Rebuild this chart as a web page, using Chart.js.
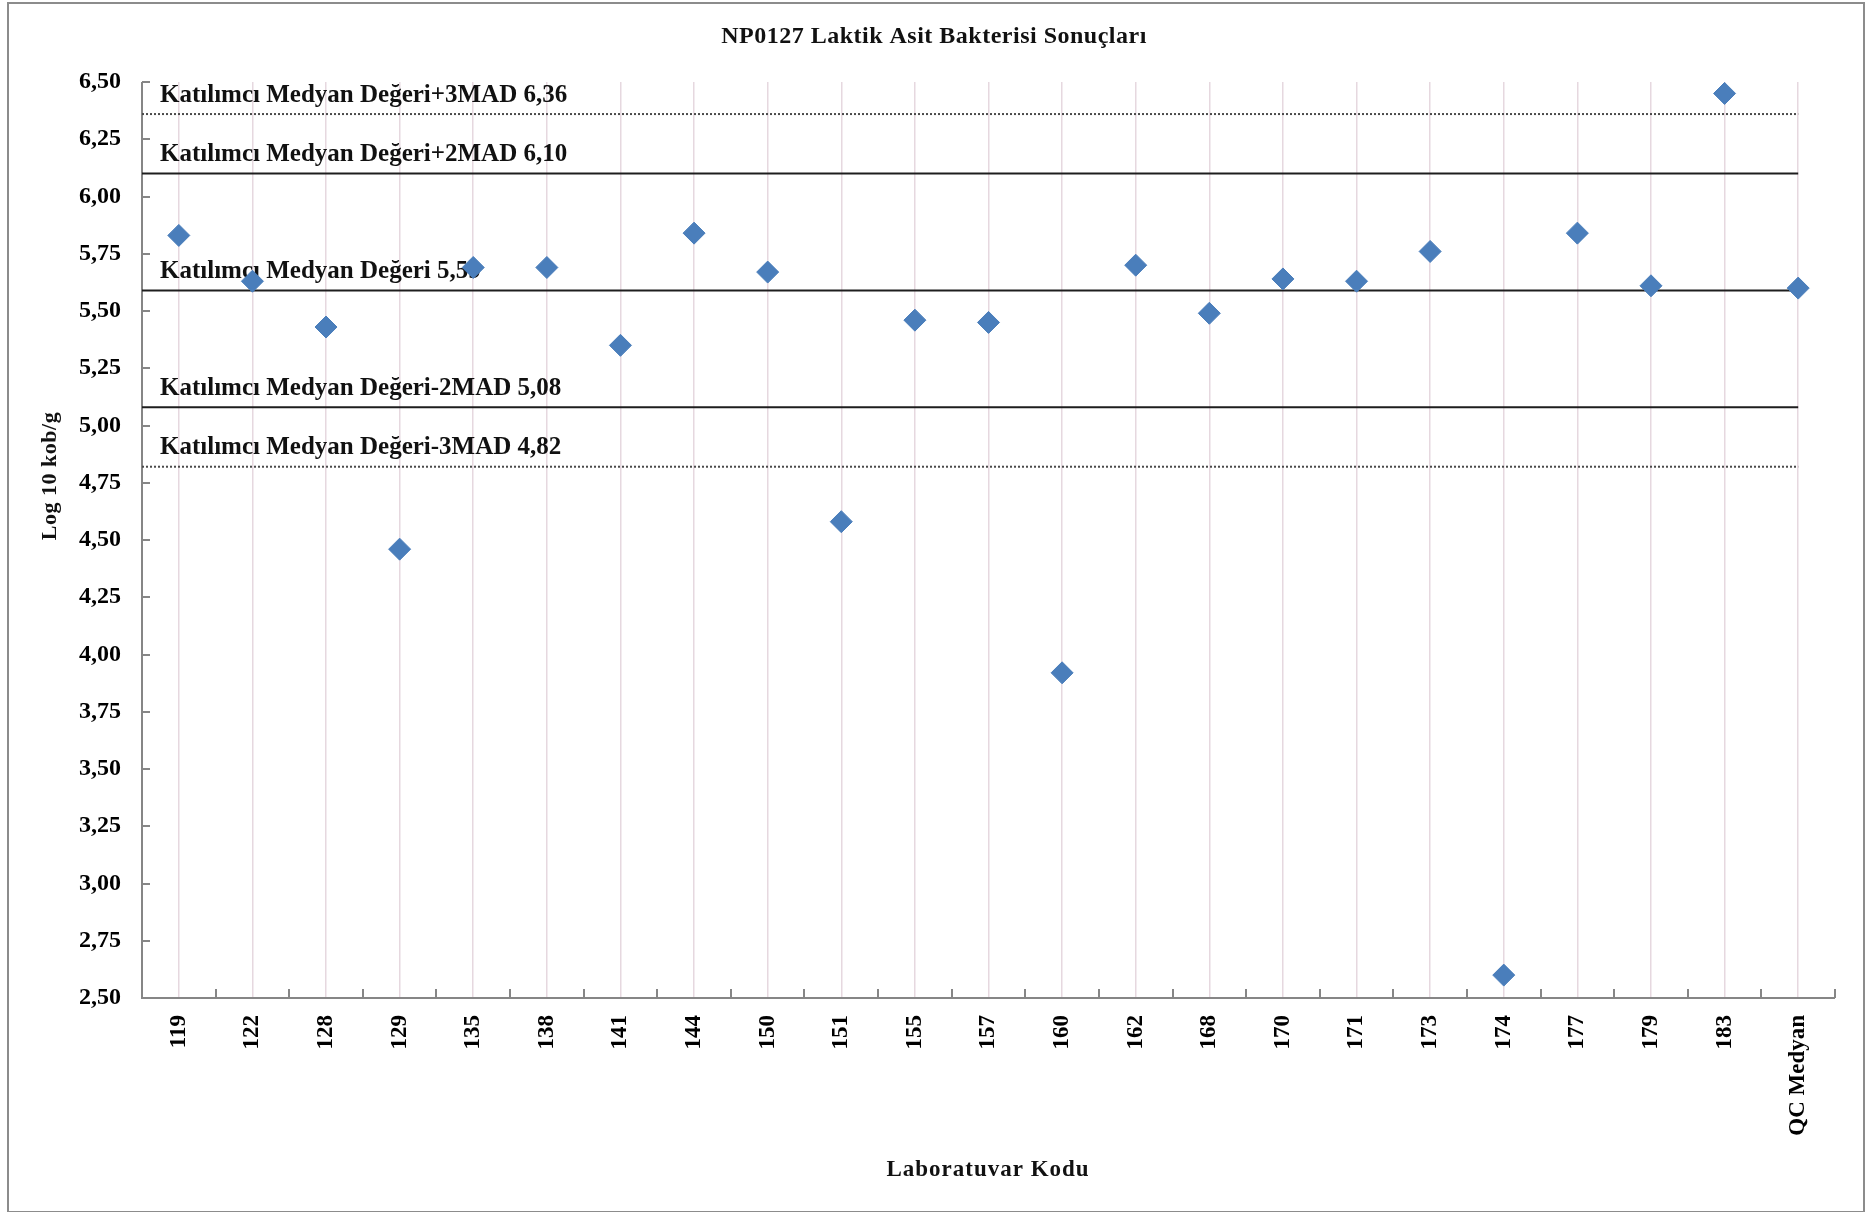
<!DOCTYPE html>
<html lang="tr">
<head>
<meta charset="utf-8">
<title>NP0127 Laktik Asit Bakterisi Sonuçları</title>
<script src="https://cdn.jsdelivr.net/npm/chart.js@4.4.1/dist/chart.umd.min.js"></script>
<style>
  html, body { margin: 0; padding: 0; background: #fff; }
  #wrap { width: 1866px; height: 1212px; }
</style>
</head>
<body>
<div id="wrap"><canvas id="labChart" width="1866" height="1212"></canvas></div>
<script>
const labCodes = ["119", "122", "128", "129", "135", "138", "141", "144", "150", "151", "155",
  "157", "160", "162", "168", "170", "171", "173", "174", "177", "179", "183", "QC Medyan"];
const labResults = [5.83, 5.63, 5.43, 4.46, 5.69, 5.69, 5.35, 5.84, 5.67, 4.58, 5.46,
  5.45, 3.92, 5.70, 5.49, 5.64, 5.63, 5.76, 2.60, 5.84, 5.61, 6.45, 5.60];

// reference lines (median +/- MAD limits)
const refNames = ["Katılımcı Medyan Değeri+3MAD", "Katılımcı Medyan Değeri+2MAD",
  "Katılımcı Medyan Değeri", "Katılımcı Medyan Değeri-2MAD", "Katılımcı Medyan Değeri-3MAD"];
const refValues = [6.36, 6.10, 5.59, 5.08, 4.82];
const refDotted = [true, false, false, false, true];

const yMin = 2.5, yMax = 6.5, yStep = 0.25;

const serif = "'Liberation Serif', 'Times New Roman', serif";
const comma = v => v.toFixed(2).replace(".", ",");

const refDatasets = refValues.map((v, i) => ({
  label: refNames[i],
  data: [{ x: -0.5, y: v }, { x: labCodes.length - 1, y: v }],
  showLine: true,
  borderColor: refDotted[i] ? "#4a4a4a" : "#1e1e1e",
  borderWidth: 2,
  borderDash: refDotted[i] ? [2, 2] : [],
  pointRadius: 0,
  pointHoverRadius: 0
}));

const excelLook = {
  id: "excelLook",
  beforeDraw(chart) {
    const c = chart.ctx;
    c.save();
    c.fillStyle = "#fff";
    c.fillRect(0, 0, chart.width, chart.height);
    c.strokeStyle = "#8c8c8c";
    c.lineWidth = 2;
    c.strokeRect(8, 3, chart.width - 10, chart.height - 3);
    c.restore();
  },
  beforeDatasetsDraw(chart) {
    const c = chart.ctx;
    const { left, right, top, bottom } = chart.chartArea;
    const x = chart.scales.x, y = chart.scales.y;
    c.save();
    c.strokeStyle = "#868686";
    c.lineWidth = 2;
    c.beginPath();
    c.moveTo(left, top);
    c.lineTo(left, bottom);
    c.lineTo(right, bottom);
    y.ticks.forEach(t => {
      const py = Math.round(y.getPixelForValue(t.value));
      c.moveTo(left, py);
      c.lineTo(left + 8, py);
    });
    for (let i = 0; i <= labCodes.length; i++) {
      const px = Math.round(x.getPixelForValue(i - 0.5));
      c.moveTo(px, bottom);
      c.lineTo(px, bottom - 9);
    }
    c.stroke();

    // labels above the reference lines, under the markers
    c.fillStyle = "#111";
    c.font = "bold 25px " + serif;
    c.textBaseline = "middle";
    c.textAlign = "left";
    refValues.forEach((v, i) => {
      c.fillText(refNames[i] + " " + comma(v), left + 18, y.getPixelForValue(v) - 19);
    });
    c.restore();
  },
  afterDraw(chart) {
    const c = chart.ctx;
    c.save();
    c.fillStyle = "#111";
    c.textAlign = "center";
    c.textBaseline = "middle";
    c.letterSpacing = "0.5px";
    c.font = "bold 24px " + serif;
    c.fillText("NP0127 Laktik Asit Bakterisi Sonuçları", 934, 37);
    c.letterSpacing = "1px";
    c.font = "bold 23px " + serif;
    c.fillText("Laboratuvar Kodu", 988, 1170);
    c.translate(50, 476);
    c.rotate(-Math.PI / 2);
    c.letterSpacing = "0.5px";
    c.font = "bold 22px " + serif;
    c.fillText("Log 10 kob/g", 0, 0);
    c.restore();
  }
};

new Chart(document.getElementById("labChart"), {
  type: "scatter",
  data: {
    datasets: [
      {
        label: "Sonuç",
        data: labResults.map((v, i) => ({ x: i, y: v })),
        pointStyle: "rectRot",
        pointRadius: 11,
        pointHoverRadius: 11,
        backgroundColor: "#4a7ebb",
        borderColor: "#4a7ebb",
        borderWidth: 1
      },
      ...refDatasets
    ]
  },
  options: {
    responsive: false,
    animation: false,
    layout: { padding: { top: 82, right: 31, left: 0, bottom: 0 } },
    plugins: {
      legend: { display: false },
      tooltip: { enabled: false }
    },
    scales: {
      x: {
        type: "linear",
        min: -0.5,
        max: labCodes.length - 0.5,
        afterBuildTicks: s => { s.ticks = labCodes.map((_, i) => ({ value: i })); },
        afterFit: s => { s.height = 1212 - 998; },
        ticks: {
          autoSkip: false,
          minRotation: 90,
          maxRotation: 90,
          padding: 17,
          color: "#000",
          font: { family: serif, size: 23, weight: "bold" },
          callback: v => labCodes[v]
        },
        grid: { color: "#e6d8df", lineWidth: 1.5, drawTicks: false },
        border: { display: false }
      },
      y: {
        min: yMin,
        max: yMax,
        afterFit: s => { s.width = 142; },
        ticks: {
          stepSize: yStep,
          padding: 21,
          color: "#000",
          font: { family: serif, size: 24, weight: "bold" },
          callback: v => comma(v)
        },
        grid: { display: false, drawTicks: false },
        border: { display: false }
      }
    }
  },
  plugins: [excelLook]
});
</script>
</body>
</html>
